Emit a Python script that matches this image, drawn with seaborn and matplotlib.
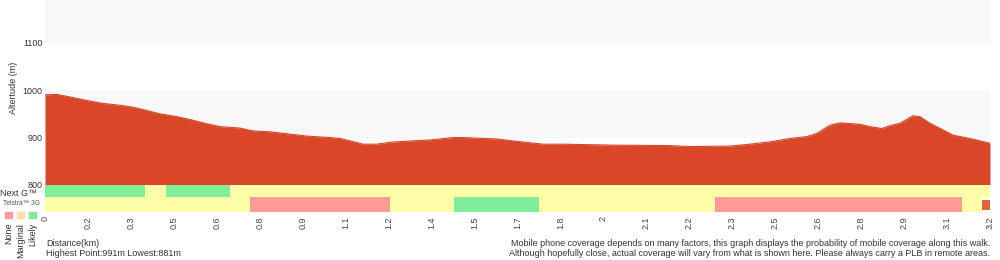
import matplotlib
matplotlib.use("Agg")
import matplotlib.pyplot as plt
import seaborn as sns
import numpy as np
import pandas as pd
from matplotlib.patches import Rectangle

# ---- data ----
dist_km = [0.00, 0.04, 0.073, 0.119, 0.152, 0.196, 0.254, 0.298, 0.332, 0.389,
           0.447, 0.491, 0.548, 0.593, 0.660, 0.704, 0.762, 0.819, 0.887, 0.965,
           0.999, 1.033, 1.077, 1.124, 1.168, 1.246, 1.304, 1.382, 1.415, 1.531,
           1.598, 1.686, 1.754, 1.923, 2.116, 2.184, 2.320, 2.387, 2.455, 2.523,
           2.580, 2.614, 2.658, 2.692, 2.760, 2.794, 2.834, 2.861, 2.895, 2.939,
           2.963, 2.997, 3.041, 3.075, 3.132, 3.200]
altitude_m = [990, 991, 987, 981, 977, 972, 968, 964, 959, 950,
              944, 938, 929, 923, 920, 914, 912, 908, 903, 900,
              898, 893, 886, 886, 890, 893, 895, 900, 900, 897,
              892, 886, 886, 884, 883, 881, 882, 886, 891, 898,
              902, 909, 926, 931, 928, 923, 919, 925, 930, 946,
              944, 930, 916, 905, 898, 888]

tick_labels = ["0", "0.2", "0.3", "0.5", "0.6", "0.8", "0.9", "1.1", "1.2", "1.4",
               "1.5", "1.7", "1.8", "2", "2.1", "2.2", "2.3", "2.5", "2.6", "2.8",
               "2.9", "3.1", "3.2"]

nextg_start = [0.0, 0.339, 0.410, 0.626]
nextg_end = [0.339, 0.410, 0.626, 3.2]
nextg_level = ["Likely", "Marginal", "Likely", "Marginal"]

g3_start = [0.0, 0.694, 1.168, 1.385, 1.673, 2.269, 3.105]
g3_end = [0.694, 1.168, 1.385, 1.673, 2.269, 3.105, 3.173]
g3_level = ["Marginal", "None", "Marginal", "Likely", "Marginal", "None", "Marginal"]

end_marker_start = 3.173
end_marker_end = 3.2

legend_levels = ["None", "Marginal", "Likely"]

# ---- style ----
level_colors = {"None": "#ff9a98", "Marginal": "#fefea8", "Likely": "#80ee98"}
legend_colors = {"None": "#ff9c9c", "Marginal": "#ffe0a8", "Likely": "#80e896"}
fill_color = "#d94628"
text_color = "#333333"
fs = 6.5

sns.set_theme(style="white")
plt.rcParams["font.family"] = ["Liberation Sans", "DejaVu Sans"]

fig = plt.figure(figsize=(10, 2.6), dpi=100)
ax = fig.add_axes([0.045, 1 - 212 / 260, 0.945, 212 / 260])

ymin, ymax = 743, 1190
ax.set_xlim(0, 3.2)
ax.set_ylim(ymin, ymax)

# background bands
for lo in [800, 900, 1000, 1100]:
    col = "#ffffff" if (lo // 100) % 2 == 0 else "#f8f8f8"
    ax.axhspan(lo, lo + 100, color=col, zorder=0, lw=0)

df = pd.DataFrame({"dist": dist_km, "alt": altitude_m})
ax.fill_between(df["dist"], 800, df["alt"], color=fill_color, lw=0, zorder=2)
sns.lineplot(data=df, x="dist", y="alt", ax=ax, color=fill_color, lw=0.8, zorder=3)

# coverage rows
row_nextg = (774.7, 800)
row_3g = (743, 774.7)
for s, e, lv in zip(nextg_start, nextg_end, nextg_level):
    ax.add_patch(Rectangle((s, row_nextg[0]), e - s, row_nextg[1] - row_nextg[0],
                           color=level_colors[lv], lw=0, zorder=2))
for s, e, lv in zip(g3_start, g3_end, g3_level):
    ax.add_patch(Rectangle((s, row_3g[0]), e - s, row_3g[1] - row_3g[0],
                           color=level_colors[lv], lw=0, zorder=2))
ax.add_patch(Rectangle((end_marker_start, 748), end_marker_end - end_marker_start, 21,
                       color="#e0663a", lw=0, zorder=2))

ax.set_xticks(np.linspace(0, 3.2, len(tick_labels)))
ax.set_xticklabels(tick_labels, rotation=90, fontsize=fs, color="#444444")
ax.set_yticks([800, 900, 1000, 1100])
ax.set_yticklabels(["800", "900", "1000", "1100"], fontsize=fs, color=text_color)
ax.tick_params(axis="both", length=0, pad=3)
ax.tick_params(axis="y", pad=2)
ax.set_xlabel("")
ax.set_ylabel("")
for sp in ax.spines.values():
    sp.set_visible(False)

# labels
fig.text(0.014, 1 - 88 / 260, "Altertude (m)", rotation=90, ha="center", va="center",
         fontsize=fs, color=text_color)
fig.text(0.0, 1 - 193 / 260, "Next G™", ha="left", va="center", fontsize=fs, color=text_color)
fig.text(0.003, 1 - 203.5 / 260, "Telstra™ 3G", ha="left", va="center", fontsize=4.8, color="#555555")

sq_x = [4, 16, 28]
lab_x = [9, 21, 33]
for lv, x0, lx in zip(legend_levels, sq_x, lab_x):
    fig.patches.append(Rectangle((x0 / 1000, 1 - 219 / 260), 9 / 1000, 8 / 260,
                                 transform=fig.transFigure, facecolor=legend_colors[lv],
                                 edgecolor="#f4f4f4", lw=0.6))
    fig.text(lx / 1000, 1 - 223 / 260, lv, rotation=90, ha="center", va="top",
             fontsize=fs, color=text_color)

fig.text(0.046, 1 - 243 / 260, "Distance(km)", ha="left", va="center", fontsize=fs, color=text_color)
fig.text(0.046, 1 - 253 / 260, "Highest Point:991m Lowest:881m", ha="left", va="center",
         fontsize=fs, color=text_color)
fig.text(0.99, 1 - 243 / 260,
         "Mobile phone coverage depends on many factors, this graph displays the probability of mobile coverage along this walk.",
         ha="right", va="center", fontsize=fs, color=text_color)
fig.text(0.99, 1 - 253 / 260,
         "Although hopefully close, actual coverage will vary from what is shown here. Please always carry a PLB in remote areas.",
         ha="right", va="center", fontsize=fs, color=text_color)

fig.savefig("out.png", dpi=100)
